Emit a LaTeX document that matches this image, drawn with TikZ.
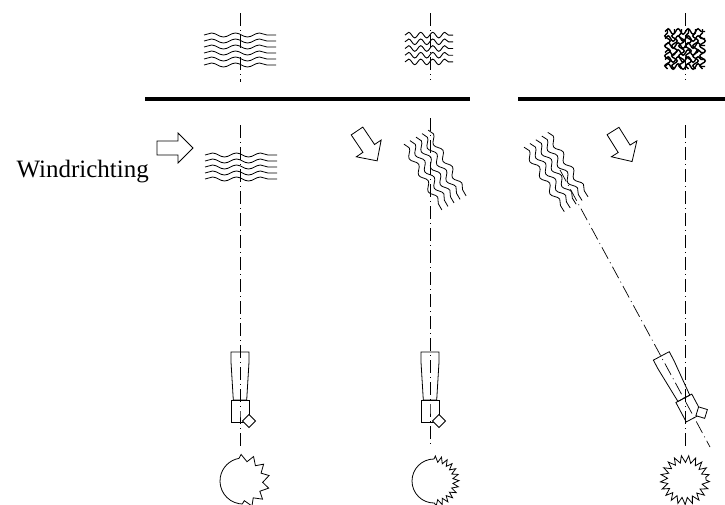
\documentclass[tikz,border=0pt]{standalone}
\usepackage{fontspec}
\setmainfont{Liberation Serif}
\usetikzlibrary{decorations.pathmorphing}

\begin{document}
\begin{tikzpicture}[x=1pt, y=-1pt,
    thinline/.style={line width=0.8pt},
    axis/.style={line width=0.7pt, dash pattern=on 13pt off 4pt on 1pt off 4pt},
    bar/.style={line width=4.3pt},
    teeth/.style 2 args={thinline, decorate, decoration={zigzag, segment length=#1, amplitude=#2}},
    pics/fabric/.style n args={6}{code={
        \pgfmathsetmacro\off{(#1-1)*#2/2}
        \foreach \i in {1,...,#1}
            \draw[line width=#6, decorate, decoration={snake, segment length=#4, amplitude=#5}]
                (-#3, {(\i-1)*#2-\off}) -- (#3, {(\i-1)*#2-\off});
    }},
    pics/viewer/.style={code={
        \draw[thinline] (-9,-59) -- (9,-59) -- (9,-49) -- (6.7,-11) -- (-6.7,-11) -- (-9,-49) -- cycle;
        \draw[thinline] (-9,-11) rectangle (9,11);
        \draw[thinline, fill=white] (2.5,10) -- (9,3.5) -- (15.5,10) -- (9,16.5) -- cycle;
    }},
    pics/windarrow/.style={code={
        \draw[thinline] (0,-7) -- (21,-7) -- (21,-15) -- (36,0) -- (21,15) -- (21,7) -- (0,7) -- cycle;
    }}]

    \useasboundingbox (0,0) rectangle (725,504);

    \coordinate (top1) at (240,13);
    \coordinate (top2) at (430,13);
    \coordinate (top3) at (685,13);
    \coordinate (cam1) at (240,411);
    \coordinate (cam2) at (430,411);
    \coordinate (cam3) at (689,408);
    \coordinate (sample3) at (560,170);
    \coordinate (end3) at (710,447);

    % upper row
    \draw[bar] (145,99) -- (470,99);
    \draw[bar] (518,99) -- (725,99);

    \pic at (240,50) {fabric={6}{6}{36}{24}{2}{0.8pt}};
    \pic at (429,48.5) {fabric={5}{6.7}{24}{12}{2.8}{0.9pt}};
    \pic at (685,49) {fabric={6}{7}{20}{10}{2.8}{1.4pt}};
    \pic[rotate=90] at (685,49) {fabric={6}{7}{20}{10}{2.8}{1.4pt}};

    \draw[axis] (top1) -- (240,82);
    \draw[axis] (top2) -- (430,80);
    \draw[axis] (top3) -- (685,80);

    % lower row
    \node[anchor=base east, font=\fontsize{25}{30}\selectfont, inner sep=0pt] (wind) at (149,177) {Windrichting};
    \pic at (157,148) {windarrow};
    \pic[rotate=-56] at (357,131) {windarrow};
    \pic[rotate=-58] at (613,131) {windarrow};

    \pic at (241,167) {fabric={5}{6}{36}{24}{2}{0.8pt}};
    \pic[rotate=-60] at (435,170) {fabric={5}{7}{38}{19}{2.8}{0.8pt}};
    \pic[rotate=-58] at (556,172) {fabric={5}{7}{38}{19}{2.8}{0.8pt}};

    \pic at (cam1) {viewer};
    \pic at (cam2) {viewer};
    \pic[rotate=28] at (cam3) {viewer};

    \draw[axis] (240,125) -- (cam1) -- (240,447);
    \draw[axis] (430,118) -- (cam2) -- (430,447);
    \draw[axis] (685,125) -- (685,447);
    \draw[axis] (sample3) -- (cam3) -- (end3);

    % spots
    \draw[thinline] (243,481) ++(100:23) arc(100:260:23);
    \draw[teeth={11}{3.5}] (243,481) ++(260:23) arc(260:460:23);
    \draw[thinline] (434,481) ++(90:22) arc(90:270:22);
    \draw[teeth={5.5}{3}] (434,481) ++(270:22) arc(270:450:22);
    \draw[teeth={6.3}{3.5}] (685,480) circle (21);
\end{tikzpicture}
\end{document}
